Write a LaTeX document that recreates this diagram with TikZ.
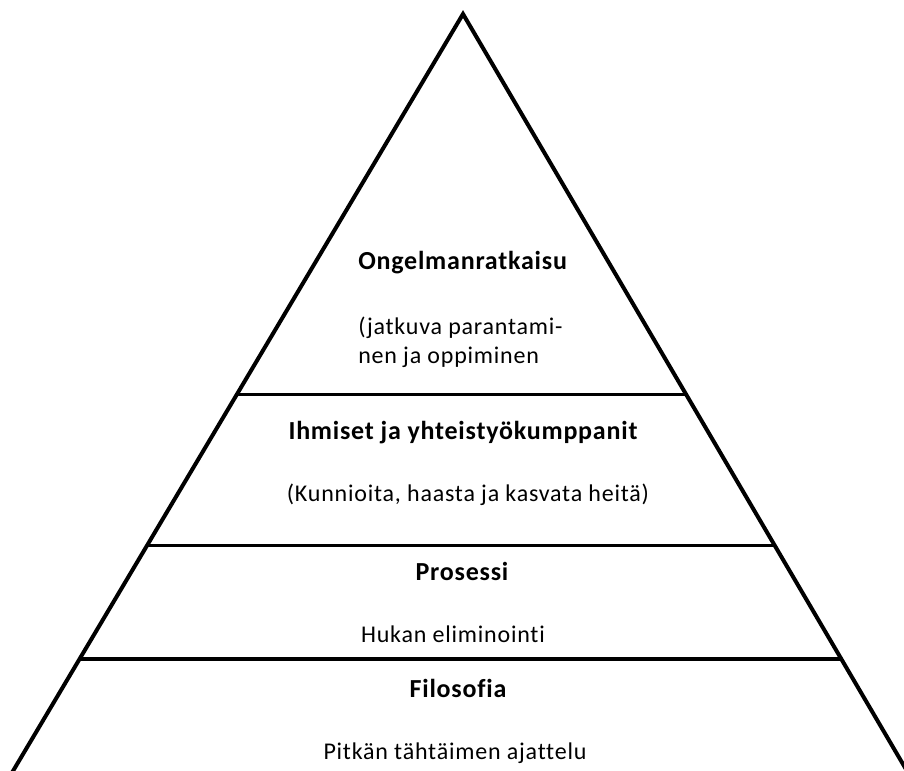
\documentclass[tikz,border=0pt]{standalone}
\usepackage{fontspec}
\setmainfont{Carlito}[Ligatures=NoCommon]
\newfontfamily\regfont{Carlito}[Ligatures=NoCommon,LetterSpace=3.3]
\newfontfamily\boldfont{Carlito Bold}[Ligatures=NoCommon,LetterSpace=3.0]
\usetikzlibrary{calc}
\begin{document}
\begin{tikzpicture}[x=0.75pt,y=-0.75pt,
  edge/.style={line width=3pt,line cap=round},
  tier/.style={line width=2.3pt},
  ttl/.style={font=\boldfont\fontsize{19.5}{22}\selectfont,inner sep=0pt},
  sub/.style={font=\regfont\fontsize{18}{22}\selectfont,inner sep=0pt}]
\useasboundingbox (0,0) rectangle (904,771);
\clip (0,0) rectangle (904,771);
\coordinate (apex) at (463,14);
\coordinate (bl) at (13,771);
\coordinate (br) at (907,771);
\coordinate (blx) at ($(apex)!1.03!(bl)$);
\coordinate (brx) at ($(apex)!1.03!(br)$);
\draw[edge] (blx) -- (apex) -- (brx);
\draw[tier,line width=1.8pt] ($(apex)!0.5026!(bl)$) -- ($(apex)!0.5026!(br)$);
\draw[tier] ($(apex)!0.7015!(bl)$) -- ($(apex)!0.7015!(br)$);
\draw[tier] ($(apex)!0.852!(bl)$) -- ($(apex)!0.852!(br)$);
\node[ttl,anchor=base west] (t1) at (358,269) {Ongelmanratkaisu};
\node[sub,anchor=base west] (s1a) at (358,334) {(jatkuva parantami-};
\node[sub,anchor=base west] (s1b) at (358,363) {nen ja oppiminen};
\node[ttl,anchor=base] (t2) at (463,439) {Ihmiset ja yhteistyökumppanit};
\node[sub,anchor=base] (s2) at (468,501) {(Kunnioita, haasta ja kasvata heitä)};
\node[ttl,anchor=base] (t3) at (462,580) {Prosessi};
\node[sub,anchor=base] (s3) at (453,642) {Hukan eliminointi};
\node[ttl,anchor=base] (t4) at (458,697) {Filosofia};
\node[sub,anchor=base] (s4) at (455,759) {Pitkän tähtäimen ajattelu};
\end{tikzpicture}
\end{document}
